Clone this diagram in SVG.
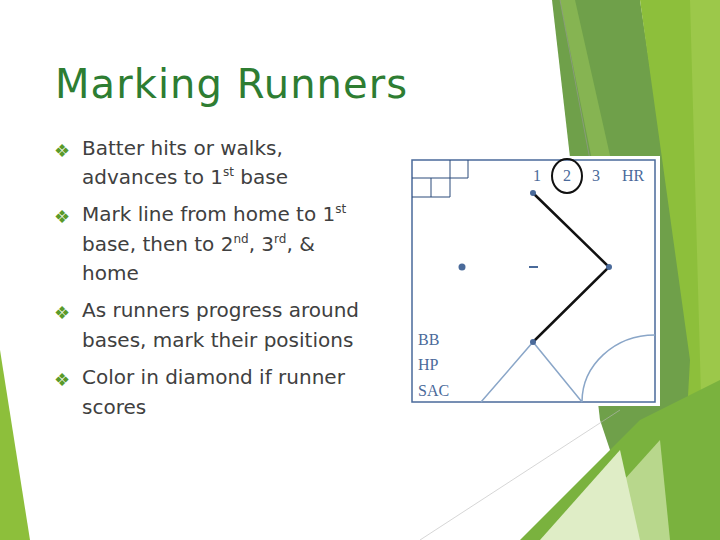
<svg xmlns="http://www.w3.org/2000/svg" width="720" height="540" viewBox="0 0 720 540">
<style>
.t{font-family:"DejaVu Sans",sans-serif;font-size:20px;fill:#404040}
.b{font-family:"DejaVu Sans",sans-serif;font-size:18px;fill:#5a9a2a}
.s{font-family:"Liberation Serif",serif;font-size:16px;fill:#4a6a9a}
.bl{fill:#4a6a9a}
</style>
<rect width="720" height="540" fill="#fff"/>
<g id="decor">
<polygon points="552,0 640,0 700,400 640,540 600,420" fill="#6fa04a"/>
<polygon points="560,0 575,0 620,200 600,200" fill="#86b452"/>
<polygon points="640,0 720,0 720,540 680,540 690,360" fill="#8dbf3b"/>
<polygon points="690,0 720,0 720,540 705,540" fill="#9cc84a"/>
<polygon points="520,540 640,420 720,380 720,540" fill="#7ab23e"/>
<polygon points="570,540 660,440 670,540" fill="#c8e0a0" opacity="0.8"/>
<polygon points="540,540 620,450 640,540" fill="#dfedc6"/>
<polygon points="0,350 30,540 0,540" fill="#8dbf3b"/>
<line x1="560" y1="0" x2="590" y2="160" stroke="#999" stroke-width="0.6"/>
<line x1="420" y1="540" x2="620" y2="410" stroke="#bbb" stroke-width="0.6"/>
</g>
<text x="55" y="98" font-family="DejaVu Sans,sans-serif" font-size="40" fill="#2e7d32" textLength="352">Marking Runners</text>
<g id="bullets">
<text class="b" x="54" y="157">❖</text>
<text class="t" x="82" y="155">Batter hits or walks,</text>
<text class="t" x="82" y="184">advances to 1<tspan font-size="12" dy="-8">st</tspan><tspan dy="8"> base</tspan></text>
<text class="b" x="54" y="223">❖</text>
<text class="t" x="82" y="221">Mark line from home to 1<tspan font-size="12" dy="-8">st</tspan></text>
<text class="t" x="82" y="251">base, then to 2<tspan font-size="12" dy="-8">nd</tspan><tspan dy="8">, 3</tspan><tspan font-size="12" dy="-8">rd</tspan><tspan dy="8">, &amp;</tspan></text>
<text class="t" x="82" y="280">home</text>
<text class="b" x="54" y="319">❖</text>
<text class="t" x="82" y="317">As runners progress around</text>
<text class="t" x="82" y="347">bases, mark their positions</text>
<text class="b" x="54" y="386">❖</text>
<text class="t" x="82" y="384">Color in diamond if runner</text>
<text class="t" x="82" y="414">scores</text>
</g>
<g id="card">
<rect x="408" y="156" width="252" height="250" fill="#fff"/>
<rect x="412" y="160" width="243" height="242" fill="none" stroke="#4a6a9a" stroke-width="1.5"/>
<path d="M412,178H468M412,197H450M431,178V197M450,160V197M468,160V178" fill="none" stroke="#2a4a7a" stroke-width="1"/>
<text class="s" x="533" y="181">1</text>
<text class="s" x="563" y="181">2</text>
<text class="s" x="592" y="181">3</text>
<text class="s" x="622" y="181">HR</text>
<ellipse cx="567" cy="176" rx="15" ry="17" fill="none" stroke="#111" stroke-width="2"/>
<path d="M481,402L533,342L582,402M582,402A73,67 0 0 1 655,335" fill="none" stroke="#8aa6c8" stroke-width="1.5"/>
<polyline points="533,193 609,267 533,342" fill="none" stroke="#111" stroke-width="2.5"/>
<circle class="bl" cx="533" cy="193" r="3"/>
<circle class="bl" cx="609" cy="267" r="3"/>
<circle class="bl" cx="533" cy="342" r="3"/>
<circle class="bl" cx="462" cy="267" r="3.5"/>
<rect class="bl" x="529" y="266" width="9" height="2"/>
<text class="s" x="418" y="345">BB</text>
<text class="s" x="418" y="370">HP</text>
<text class="s" x="418" y="396">SAC</text>
</g>
</svg>
